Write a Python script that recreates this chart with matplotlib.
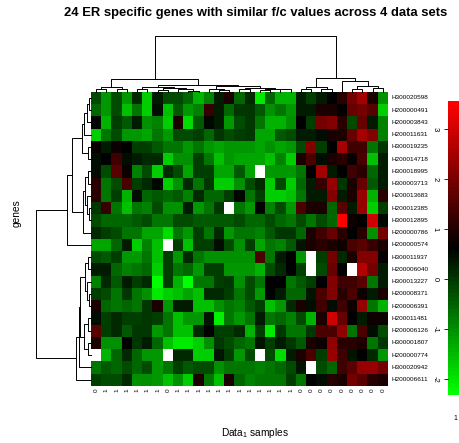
import numpy as np
import matplotlib
matplotlib.use("Agg")
import matplotlib.pyplot as plt
from matplotlib.colors import LinearSegmentedColormap

plt.rcParams['font.family'] = ['Liberation Sans', 'DejaVu Sans']
plt.rcParams['mathtext.default'] = 'regular'

title = "24 ER specific genes with similar f/c values across 4 data sets"

genes = ["H300020598", "H200000491", "H200003843", "H200011631", "H300019235",
         "H200014718", "H300018995", "H300003713", "H200013683", "H200012385",
         "H300012895", "H200000786", "H200000574", "H300011937", "H200006040",
         "H300013227", "H200008371", "H200006391", "H200011481", "H200006126",
         "H300001807", "H200000774", "H300020942", "H200006611"]

sample_labels = ["0", "1", "1", "1", "1", "1", "1", "0", "1", "1", "1", "1", "1", "1",
                 "1", "1", "1", "1", "1", "1", "0", "0", "0", "0", "0", "0", "0", "0", "0"]

nan = np.nan
# scaled f/c values, rows in dendrogram order (NaN = missing, drawn white)
values = [
    [-0.26, -1.14, -0.26, -1.14, 0.18, -1.72, 0.33, -0.26, -0.26, -0.55, -1.43, -0.85, 0.33, 0.91, -0.55, 0.18, -2.02, -0.55, -1.43, -1.43, 0.33, -0.11, 0.33, 0.62, 1.06, 1.94, 2.52, 0.91, -0.99],
    [-0.55, -1.14, -0.26, -1.58, -0.70, -1.72, 0.47, -1.58, -0.41, -1.14, -0.85, 1.21, 0.33, -0.55, 0.03, 0.03, -0.41, -0.99, -0.70, -1.14, 0.33, 0.33, 0.91, 0.91, 0.62, 1.79, 1.94, 1.65, -1.72],
    [0.53, -1.43, -0.11, -0.41, 0.33, -0.99, -0.85, -1.72, 0.91, -1.87, -0.41, 0.53, 0.33, -1.14, -0.26, 0.03, -0.70, -1.43, -1.43, -0.99, 0.62, -0.11, 1.94, 2.09, 1.06, -0.26, 1.79, 0.33, -0.85],
    [-1.72, -0.70, -0.26, -1.14, -1.14, -1.28, -0.70, -1.14, -0.26, -0.26, -0.11, -0.55, 0.03, -0.26, -0.11, 0.03, -1.28, -1.28, -0.41, -0.26, 0.33, 0.33, 0.47, 0.91, 0.91, 1.79, 2.52, 2.09, -0.85],
    [0.71, 0.33, 0.77, 0.62, -0.11, -0.11, -0.41, -0.70, -0.70, -1.14, -0.70, -1.14, -1.28, -1.14, -1.14, -1.14, -1.28, -0.99, -1.28, -1.14, -0.26, 2.09, -0.11, 0.62, 2.52, 1.35, 1.35, -0.70, 0.03],
    [0.47, 0.62, 1.35, 0.47, 0.33, 0.18, 0.18, -1.72, -0.99, -0.99, -0.11, -0.70, -1.58, -1.14, -1.28, -1.28, -1.28, -1.58, -0.85, -1.72, 0.91, 1.50, 0.47, 0.91, 1.06, 0.71, 1.50, -1.58, 0.33],
    [0.47, -0.26, 1.65, 0.77, -0.85, -0.26, -1.72, 0.18, -0.26, -1.28, -0.11, -0.11, -1.28, -1.28, -0.41, -1.28, nan, -1.14, -1.14, -1.14, -0.70, 0.62, 2.52, 0.33, 0.62, 1.35, 1.06, -0.55, 0.33],
    [1.06, -0.70, -0.26, 1.50, -0.11, 0.18, 0.53, -1.72, -0.99, 0.18, -0.70, 0.03, -1.72, -1.72, -0.99, -0.26, 0.18, -1.72, -0.26, -1.72, -0.55, 0.33, 1.21, 2.38, 0.03, 0.91, 1.79, -0.41, 0.33],
    [1.06, -0.70, -0.11, -1.43, 0.47, -0.55, -0.41, -0.55, -0.41, -0.85, 0.18, -0.55, -0.55, -0.11, 0.53, -0.70, -0.11, -1.72, -1.72, -1.58, -0.70, 0.33, 0.33, 2.09, 0.33, 0.91, 2.38, -1.43, 1.06],
    [0.03, 1.21, -0.70, -1.58, -0.70, -0.85, -0.26, -0.99, -0.99, 0.33, -1.14, -0.70, 0.03, nan, -0.70, -1.14, 0.62, -0.85, -0.26, -1.14, 1.50, 0.91, 0.91, -0.55, 1.65, 0.33, 2.38, -1.72, -0.11],
    [-0.26, -0.55, -0.55, -0.55, -0.41, -0.26, -0.70, -0.70, -0.26, -0.26, -0.41, -0.41, -0.41, -0.41, -0.26, -0.55, -0.55, -0.26, -0.55, -0.70, -0.26, -0.70, -0.26, -0.55, 3.55, 0.77, 0.62, 2.96, 0.53],
    [0.18, -0.11, -0.26, -0.70, -0.70, -1.28, -1.28, -1.87, -0.70, -1.14, -0.11, -0.70, 0.18, -1.14, -0.70, -0.70, -0.85, -0.41, 0.03, 0.03, -0.55, 0.91, 1.35, 1.79, 1.06, 0.62, 1.06, -0.99, 1.94],
    [-1.28, -1.28, -0.55, 0.33, -1.72, -0.85, -1.58, nan, -0.11, -1.58, -0.11, -0.11, 0.47, -0.26, -0.99, -0.11, -1.28, -0.70, -0.85, -0.41, 0.39, 0.91, 1.06, 0.91, 0.77, 1.50, 1.65, 1.21, 0.91],
    [-0.26, -0.41, -0.11, -1.14, -1.14, -0.70, -1.58, -0.11, -1.14, 0.18, -0.70, -0.99, -0.99, -0.99, -0.99, -0.99, 1.50, -0.70, 0.33, 0.62, -1.14, nan, -0.11, 1.94, 0.18, 0.91, 2.09, 2.09, 0.71],
    [0.33, 0.33, -0.55, -0.85, -0.70, -0.55, -1.72, -0.11, -0.70, -0.55, -1.14, -0.11, -0.11, -1.14, -1.14, -1.14, -1.43, -0.26, 0.18, 0.62, -0.11, nan, -0.26, 1.79, 0.62, nan, 2.67, 1.94, 0.33],
    [-0.85, 0.18, -0.41, 0.33, -0.11, 0.18, -2.31, -0.11, -1.43, -2.31, -0.70, -0.70, -0.11, 0.03, -0.99, -0.26, -0.70, 0.62, 0.62, -0.70, -0.41, -0.11, 0.62, 2.09, 1.35, 1.35, 1.65, -0.70, 0.33],
    [-0.11, -0.26, -0.70, 0.03, -0.70, -0.99, -2.02, -1.72, -1.58, -1.28, -1.58, 0.18, 0.18, -0.11, -0.70, -0.26, -1.14, 0.62, 0.33, -0.55, -0.55, 0.39, 1.50, 2.09, 1.06, 1.50, 0.77, 0.33, 0.91],
    [0.91, -0.55, -0.70, -0.55, -0.70, 0.03, 0.91, -1.14, 0.33, 0.33, -1.58, -1.58, -0.99, -0.70, -0.85, -0.41, -0.11, -1.58, -1.14, 0.18, 0.91, 0.47, 1.35, 0.47, 1.35, 0.77, 2.38, -0.70, -1.43],
    [0.47, -0.11, 0.18, -0.11, -0.11, 0.03, -0.11, -0.70, -1.58, -1.14, -1.14, 0.39, -2.16, -0.70, -1.14, -0.70, 0.33, -0.70, -0.55, -0.85, -0.26, -1.43, 0.91, 2.96, 1.79, 0.62, 0.33, 0.77, 0.77],
    [1.65, -0.11, 0.18, -0.41, 0.03, 0.03, -1.14, -0.70, -1.58, -1.58, 0.18, 0.62, -0.11, -0.11, 0.18, -1.43, -0.11, -2.02, 0.03, -0.70, -0.70, 0.03, 1.50, 1.50, 2.23, -0.70, 1.50, 0.47, -0.26],
    [0.91, -0.99, -0.99, 0.62, 0.03, 0.33, -0.55, -1.58, -2.02, -2.02, -1.72, -0.99, 0.03, -0.26, -0.55, -0.70, 0.39, -0.11, 0.33, 0.03, -0.41, 0.91, 0.77, 2.23, 1.06, 1.06, 0.91, -0.70, 0.03],
    [nan, -1.43, -0.55, 0.18, -0.55, -1.14, -1.14, nan, 0.18, 0.18, -1.72, -1.72, 0.39, -0.11, -1.14, -0.26, nan, -0.26, -1.87, 0.33, 0.91, 1.50, -0.11, 2.38, 1.35, 0.39, 0.62, 0.18, -1.14],
    [-0.70, -0.41, -0.55, -0.26, -0.55, -0.26, -1.14, -0.70, -0.11, -0.41, -0.26, -0.26, -0.99, -0.70, -0.70, -0.70, -0.85, -0.70, -0.55, -0.26, 0.39, nan, -0.26, -0.55, 1.35, 1.65, 2.38, 2.38, 1.94],
    [-0.11, -0.26, -0.26, 0.18, -0.99, -0.99, -1.14, -1.58, -0.99, -1.72, 0.91, -0.70, -1.58, 0.91, -0.55, -0.85, -0.70, -0.70, -0.70, -0.11, -0.70, 0.62, 0.47, 1.06, 0.91, 1.94, 1.65, 1.06, 0.91],
]

key_min, key_max = -2.32, 3.56
key_ticks = [-2, -1, 0, 1, 2, 3]

# dendrograms: (merge height, left, right), leaves are positions in display order
col_tree = (1.0,
            (0.22,
             (0.09, (0.05, 0, 1), (0.04, 2, 3)),
             (0.12,
              (0.08, (0.04, 4, 5), (0.06, (0.03, 6, 7), (0.04, 8, (0.02, 9, 10)))),
              (0.10,
               (0.05, 11, (0.03, 12, 13)),
               (0.07, (0.04, 14, 15), (0.05, (0.03, 16, 17), (0.04, 18, 19)))))),
            (0.24,
             (0.09, (0.04, 20, 21), (0.05, 22, 23)),
             (0.20, 24, (0.10, (0.05, 25, 26), (0.06, 27, 28)))))

row_tree = (1.0,
            (0.44,
             (0.34,
              (0.17, (0.12, (0.08, (0.04, 0, 1), 2), 3), (0.05, 4, 5)),
              (0.15, (0.10, (0.06, 6, 7), (0.07, 8, (0.04, 9, 10))), 11)),
             12),
            (0.27,
             (0.22,
              (0.19,
               (0.10, (0.05, 13, 14), (0.07, 15, (0.04, 16, 17))),
               (0.12, (0.06, 18, 19), (0.05, 20, 21))),
              22),
             23))


def draw_tree(ax, node, horizontal):
    """draw one dendrogram node, return (position, height)"""
    if not isinstance(node, tuple):
        return node + 0.5, 0.0
    h, a, b = node
    pa, ha = draw_tree(ax, a, horizontal)
    pb, hb = draw_tree(ax, b, horizontal)
    pos = [pa, pa, pb, pb]
    hgt = [ha, h, h, hb]
    if horizontal:
        ax.plot(pos, hgt, color='black', lw=0.7, clip_on=False)
    else:
        ax.plot(hgt, pos, color='black', lw=0.7, clip_on=False)
    return (pa + pb) / 2, h


W, H = 460, 443
fig = plt.figure(figsize=(W / 100, H / 100), dpi=100)


def box(x0, y0, x1, y1):
    # pixel box (top-left origin) -> figure fraction
    return [x0 / W, 1 - y1 / H, (x1 - x0) / W, (y1 - y0) / H]


data = np.array(values, dtype=float)
nrow, ncol = data.shape
cmap = LinearSegmentedColormap.from_list('greenred', ['#00FF00', '#000000', '#FF0000'], N=75)
cmap.set_bad('white')

hx0, hx1, hy0, hy1 = 91, 388, 91.7, 385.7

ax = fig.add_axes(box(hx0, hy0, hx1, hy1))
ax.imshow(np.ma.masked_invalid(data), cmap=cmap, vmin=key_min, vmax=key_max,
          aspect='auto', interpolation='nearest', extent=(0, ncol, nrow, 0))
ax.set_xlim(0, ncol)
ax.set_ylim(nrow, 0)
ax.set_xticks([])
ax.set_yticks([])
for s in ax.spines.values():
    s.set_visible(False)

for i, g in enumerate(genes):
    ax.text(ncol + 0.35, i + 0.5, g, ha='left', va='center', fontsize=4.6)
for j, lab in enumerate(sample_labels):
    ax.text(j + 0.5, nrow + 0.25, lab, ha='center', va='top', rotation=90, fontsize=4.6)

# column dendrogram
axc = fig.add_axes(box(hx0, 36, hx1, hy0))
draw_tree(axc, col_tree, True)
axc.set_xlim(0, ncol)
axc.set_ylim(0, 1)
axc.axis('off')

# row dendrogram
axr = fig.add_axes(box(35.7, hy0, hx0, hy1))
draw_tree(axr, row_tree, False)
axr.set_xlim(1, 0)
axr.set_ylim(nrow, 0)
axr.axis('off')

# color key
axk = fig.add_axes(box(448, 101, 459, 395))
grad = np.linspace(key_min, key_max, 300).reshape(-1, 1)
axk.imshow(grad, cmap=cmap, vmin=key_min, vmax=key_max, aspect='auto',
           origin='lower', extent=(0, 1, key_min, key_max))
axk.set_xticks([])
axk.set_yticks(key_ticks)
axk.set_yticklabels([str(t) for t in key_ticks], rotation=270, va='center', fontsize=5.5)
axk.tick_params(axis='y', length=3, width=0.6, pad=4)
for s in axk.spines.values():
    s.set_visible(False)

fig.text(255.7 / W, 1 - 13.3 / H, title, ha='center', va='center',
         fontsize=9.4, fontweight='bold')
fig.text(17 / W, 1 - 213 / H, "genes", ha='center', va='center', rotation=90, fontsize=7.3)
fig.text(255 / W, 1 - 433 / H, "Data$_1$ samples", ha='center', va='center', fontsize=7.3)
fig.text(455 / W, 1 - 418 / H, "1", ha='center', va='center', fontsize=5)

fig.savefig('out.png', dpi=100)
